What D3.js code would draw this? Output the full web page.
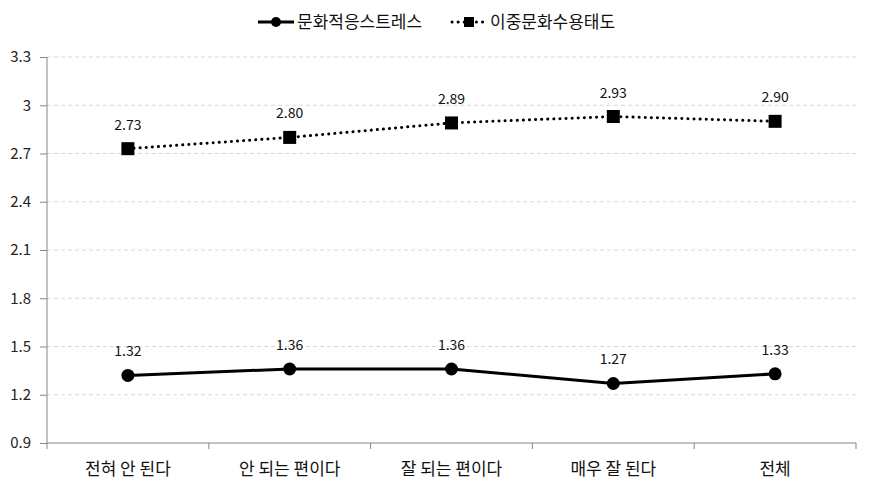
<!DOCTYPE html>
<html><head><meta charset="utf-8">
<script src="https://cdn.jsdelivr.net/npm/d3@7"></script>
<style>body{margin:0;background:#fff;} text{font-family:"Noto Sans CJK KR","Noto Sans",sans-serif;}</style>
</head><body>
<svg id="c" width="871" height="493"></svg>
<script>
const categories = ["전혀 안 된다","안 되는 편이다","잘 되는 편이다","매우 잘 된다","전체"];
const stressValues = [1.32,1.36,1.36,1.27,1.33];
const attitudeValues = [2.73,2.80,2.89,2.93,2.90];
const seriesNames = ["문화적응스트레스","이중문화수용태도"];
const yTicks = [0.9,1.2,1.5,1.8,2.1,2.4,2.7,3,3.3];

const svg = d3.select("#c");
const L=47,R=856,T=57,B=443;
const x = d3.scaleBand().domain(categories).range([L,R]);
const y = d3.scaleLinear().domain([0.9,3.3]).range([B,T]);
const fs = "14px";

// grid
svg.append("g").selectAll("line").data(yTicks.filter(d=>d>0.9)).join("line")
  .attr("x1",L).attr("x2",R).attr("y1",d=>y(d)).attr("y2",d=>y(d))
  .attr("stroke","#d9d9d9").attr("stroke-dasharray","4,3");

// y axis
const ya = svg.append("g").attr("transform",`translate(${L},0)`)
  .call(d3.axisLeft(y).tickValues(yTicks).tickSize(7).tickPadding(9).tickFormat(d=>String(d)));
ya.select(".domain").attr("stroke","#868686").attr("d",`M0,${B}V${T}`);
ya.selectAll(".tick line").attr("stroke","#868686");
ya.selectAll("text").attr("font-size","15px").attr("fill","#222").style("font-family","'Noto Sans CJK KR',sans-serif");

// x axis
const xa = svg.append("g").attr("transform",`translate(0,${B})`)
  .call(d3.axisBottom(x).tickSize(0).tickPadding(20));
xa.select(".domain").attr("stroke","#868686").attr("d",`M${L},0H${R}`);
xa.selectAll("text").attr("font-size","17px").attr("fill","#111").style("font-family","'Noto Sans CJK KR',sans-serif");
const bounds = categories.map(c=>x(c)).concat([R]);
svg.append("g").selectAll("line").data(bounds).join("line")
  .attr("x1",d=>d).attr("x2",d=>d).attr("y1",B).attr("y2",B+6).attr("stroke","#868686");

const cx = c=>x(c)+x.bandwidth()/2;
const line = d3.line().x((d,i)=>cx(categories[i])).y(d=>y(d));

// attitude (dotted, squares)
svg.append("path").datum(attitudeValues).attr("d",line).attr("fill","none")
  .attr("stroke","#000").attr("stroke-width",3).attr("stroke-dasharray","0.1,6").attr("stroke-linecap","round");
svg.append("g").selectAll("rect").data(attitudeValues).join("rect")
  .attr("x",(d,i)=>cx(categories[i])-6.5).attr("y",d=>y(d)-6.5).attr("width",13).attr("height",13).attr("fill","#000");
svg.append("g").selectAll("text").data(attitudeValues).join("text")
  .attr("x",(d,i)=>cx(categories[i])).attr("y",d=>y(d)-19).attr("text-anchor","middle")
  .attr("font-size",fs).attr("fill","#111").text(d=>d.toFixed(2));

// stress (solid, circles)
svg.append("path").datum(stressValues).attr("d",line).attr("fill","none")
  .attr("stroke","#000").attr("stroke-width",3);
svg.append("g").selectAll("circle").data(stressValues).join("circle")
  .attr("cx",(d,i)=>cx(categories[i])).attr("cy",d=>y(d)).attr("r",6.5).attr("fill","#000");
svg.append("g").selectAll("text").data(stressValues).join("text")
  .attr("x",(d,i)=>cx(categories[i])).attr("y",d=>y(d)-19).attr("text-anchor","middle")
  .attr("font-size",fs).attr("fill","#111").text(d=>d.toFixed(2));

// legend
const lg = svg.append("g");
lg.append("line").attr("x1",258).attr("x2",294).attr("y1",22).attr("y2",22).attr("stroke","#000").attr("stroke-width",3);
lg.append("circle").attr("cx",276).attr("cy",22).attr("r",5).attr("fill","#000");
lg.append("text").attr("x",297).attr("y",28).attr("font-size","17px").attr("fill","#111").text(seriesNames[0]);
lg.append("line").attr("x1",452).attr("x2",486).attr("y1",22).attr("y2",22).attr("stroke","#000").attr("stroke-width",3)
  .attr("stroke-dasharray","0.1,6").attr("stroke-linecap","round");
lg.append("rect").attr("x",464).attr("y",17).attr("width",10).attr("height",10).attr("fill","#000");
lg.append("text").attr("x",490).attr("y",28).attr("font-size","17px").attr("fill","#111").text(seriesNames[1]);
</script>
</body></html>
